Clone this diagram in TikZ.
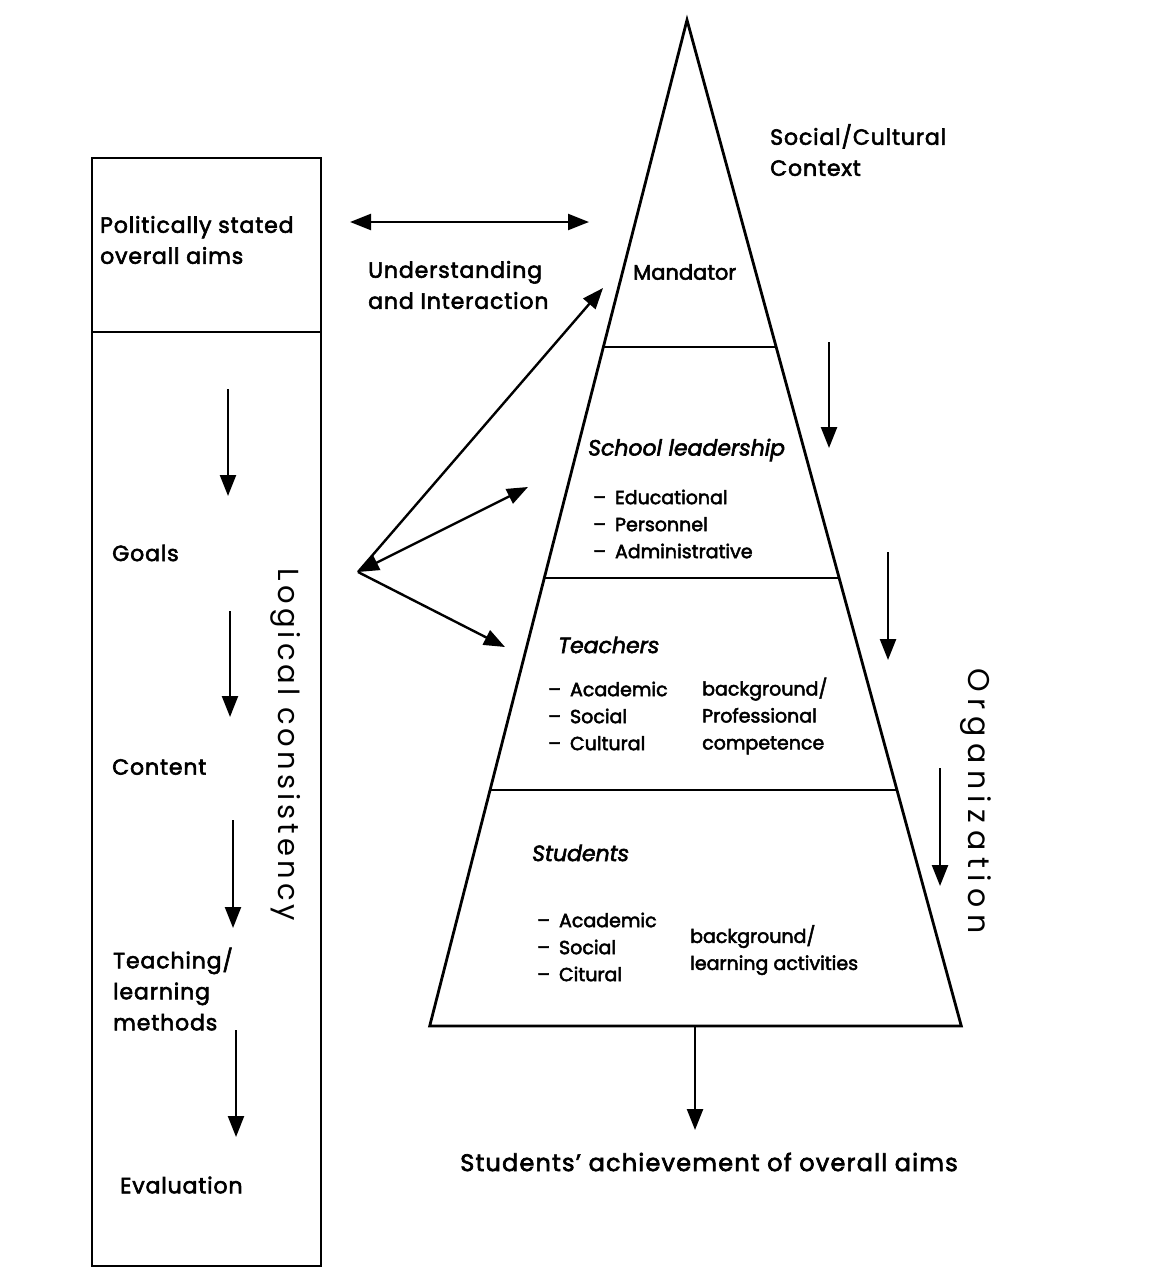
\documentclass[tikz,border=0pt]{standalone}
\usepackage{fontspec}
\setmainfont{Poppins}[FakeBold=2.6]
\newfontfamily\rotfont{Poppins}
\usetikzlibrary{arrows.meta}
\begin{document}
\begin{tikzpicture}[x=1pt,y=-1pt,
  lbl/.style={anchor=west,inner sep=0pt,font=\fontsize{22}{31}\selectfont\addfontfeatures{LetterSpace=4}},
  item/.style={anchor=west,inner sep=0pt,font=\fontsize{19}{27}\selectfont},
  rot/.style={inner sep=0pt,rotate=-90},
  arr/.style={line width=2.4pt,-{Triangle[length=21pt,width=16pt]}},
  darr/.style={line width=2.4pt,{Triangle[length=21pt,width=16pt]}-{Triangle[length=21pt,width=16pt]}},
  frame/.style={line width=2.8pt}]
\useasboundingbox[fill=white] (0,0) rectangle (1171,1274);

% left box
\coordinate (boxTL) at (92,158);
\coordinate (boxBR) at (321,1266);
\coordinate (divL) at (92,332);
\coordinate (divR) at (321,332);
\draw[frame] (boxTL) rectangle (boxBR);
\draw[frame] (divL) -- (divR);

% triangle
\coordinate (apex) at (687,20);
\coordinate (bl) at (429.7,1026);
\coordinate (br) at (961.3,1026);
\coordinate (d1l) at (603.4,347);  \coordinate (d1r) at (776.2,347);
\coordinate (d2l) at (544.3,578);  \coordinate (d2r) at (839.2,578);
\coordinate (d3l) at (490.0,790);  \coordinate (d3r) at (897.0,790);
\draw[frame,line join=miter] (apex) -- (br) -- (bl) -- cycle;
\draw[frame] (d1l) -- (d1r);
\draw[frame] (d2l) -- (d2r);
\draw[frame] (d3l) -- (d3r);

% left box texts
\node[lbl,align=left] (pol) at (100,240) {Politically stated\\overall aims};
\node[lbl] (goals) at (112,553) {Goals};
\node[lbl] (content) at (112,767) {Content};
\node[lbl,align=left] (teach) at (113,989) {Teaching/\\learning\\methods};
\node[lbl] (eval) at (120,1185) {Evaluation};
\node[rot,font=\rotfont\fontsize{29}{30}\selectfont\addfontfeatures{LetterSpace=14}] (logic) at (286,745) {Logical consistency};

% left box arrows
\coordinate (a1s) at (228,389); \coordinate (a1e) at (228,496);
\coordinate (a2s) at (230,611); \coordinate (a2e) at (230,717);
\coordinate (a3s) at (233,820); \coordinate (a3e) at (233,928);
\coordinate (a4s) at (236,1030); \coordinate (a4e) at (236,1137);
\draw[arr] (a1s) -- (a1e);
\draw[arr] (a2s) -- (a2e);
\draw[arr] (a3s) -- (a3e);
\draw[arr] (a4s) -- (a4e);

% understanding and interaction
\coordinate (ul) at (350,222); \coordinate (ur) at (589,222);
\draw[darr] (ul) -- (ur);
\node[lbl,align=left] (und) at (368,285) {Understanding\\and Interaction};

% fan arrows
\coordinate (fan) at (358,572);
\coordinate (fm) at (603,288);
\coordinate (fs) at (528,487);
\coordinate (ft) at (505,647);
\draw[arr] (fan) -- (fm);
\draw[darr] (fan) -- (fs);
\draw[arr] (fan) -- (ft);

% triangle texts
\node[lbl,align=left] (soc) at (770,150) {Social/Cultural\\Context};
\node[lbl,font=\fontsize{21}{31}\selectfont] (mand) at (633,272) {Mandator};
\node[lbl,font=\fontsize{22}{31}\selectfont\itshape] (school) at (588,450) {School leadership};
\node[item,align=left] (schoolitems) at (593,524) {–\hspace{9pt}Educational\\–\hspace{9pt}Personnel\\–\hspace{9pt}Administrative};
\node[lbl,font=\fontsize{22}{31}\selectfont\itshape] (teachers) at (558,645) {Teachers};
\node[item,align=left] (teachitems) at (548,716) {–\hspace{9pt}Academic\\–\hspace{9pt}Social\\–\hspace{9pt}Cultural};
\node[item,align=left] (teachright) at (702,716) {background/\\Professional\\competence};
\node[lbl,font=\fontsize{22}{31}\selectfont\itshape] (students) at (532,853) {Students};
\node[item,align=left] (studitems) at (537,947) {–\hspace{9pt}Academic\\–\hspace{9pt}Social\\–\hspace{9pt}Citural};
\node[item,align=left] (studright) at (690,950) {background/\\learning activities};

% organization arrows
\coordinate (o1s) at (829,342); \coordinate (o1e) at (829,448);
\coordinate (o2s) at (888,552); \coordinate (o2e) at (888,660);
\coordinate (o3s) at (940,768); \coordinate (o3e) at (940,886);
\draw[arr] (o1s) -- (o1e);
\draw[arr] (o2s) -- (o2e);
\draw[arr] (o3s) -- (o3e);
\node[rot,font=\rotfont\fontsize{30}{30}\selectfont\addfontfeatures{LetterSpace=22}] (org) at (976,801) {Organization};

% bottom
\coordinate (bs) at (695,1026); \coordinate (be) at (695,1130);
\draw[arr] (bs) -- (be);
\node[lbl,anchor=center,font=\fontsize{24}{31}\selectfont\addfontfeatures{LetterSpace=5}] (achieve) at (709,1162) {Students’ achievement of overall aims};
\end{tikzpicture}
\end{document}
